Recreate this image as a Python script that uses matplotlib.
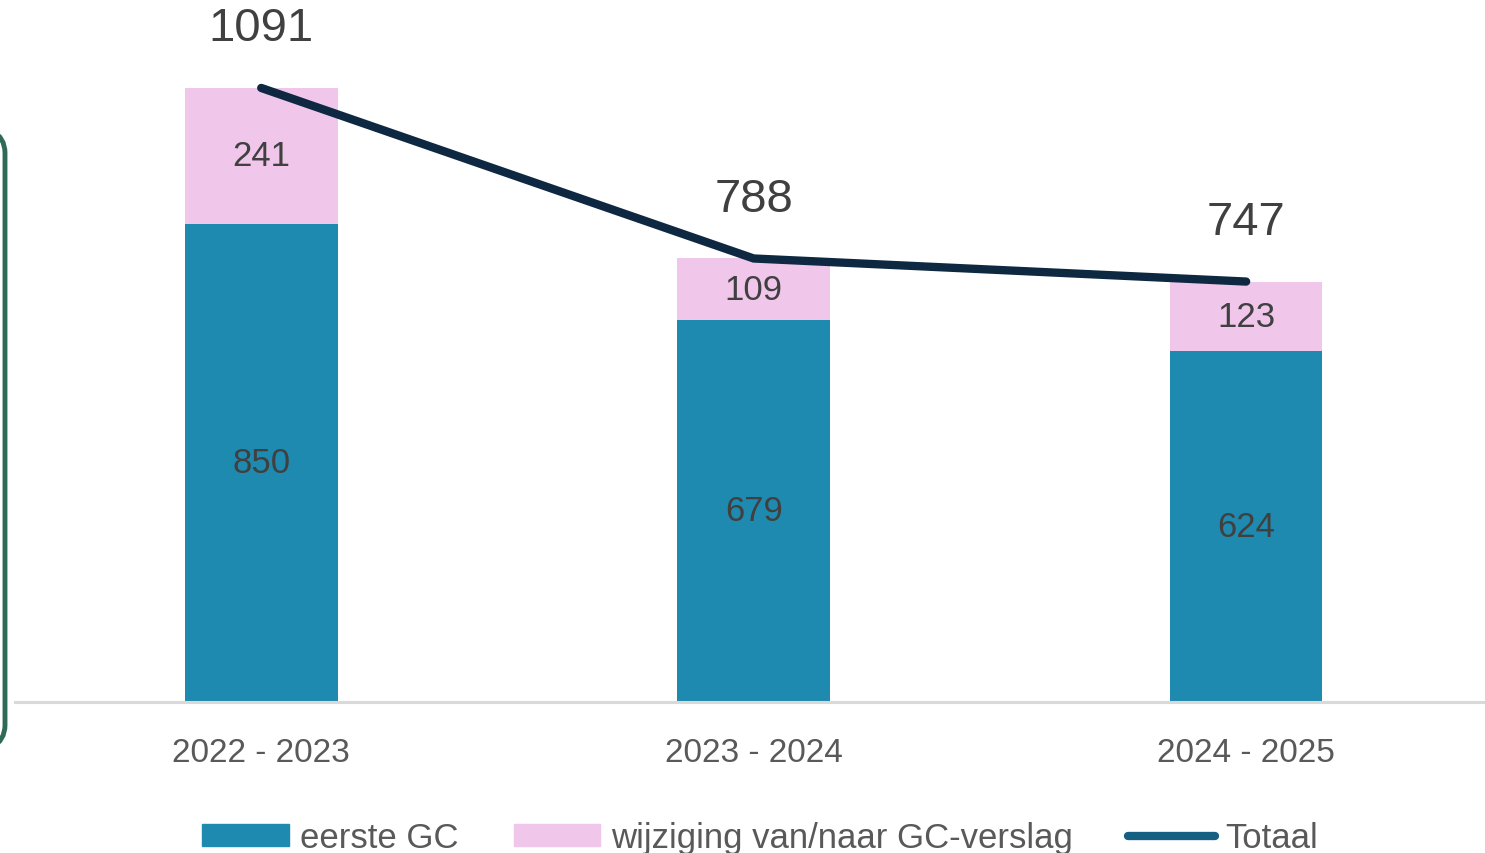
import matplotlib
matplotlib.use("Agg")
import matplotlib.pyplot as plt
from matplotlib.patches import FancyBboxPatch, Patch
from matplotlib.lines import Line2D

plt.rcParams['font.family'] = ['Liberation Sans', 'DejaVu Sans']

jaren = ['2022 - 2023', '2023 - 2024', '2024 - 2025']
eerste_gc = [850, 679, 624]
wijziging = [241, 109, 123]
totaal = [1091, 788, 747]

blauw = '#1f8ab0'
roze = '#f0c6ea'
lijn = '#0e2841'
tekst = '#404040'

fig = plt.figure(figsize=(14.85, 8.54), dpi=100)
ax = fig.add_axes([15 / 1485, 151 / 854, 1 - 15 / 1485, 675.4 / 854])

x = list(range(len(jaren)))
b1 = ax.bar(x, eerste_gc, width=0.31, color=blauw, zorder=2)
b2 = ax.bar(x, wijziging, width=0.31, bottom=eerste_gc, color=roze, zorder=2)
ax.plot(x, totaal, color=lijn, lw=6, solid_capstyle='round', zorder=3)

ax.bar_label(b1, labels=[str(v) for v in eerste_gc], label_type='center',
             fontsize=25, color=tekst)
ax.bar_label(b2, labels=[str(v) for v in wijziging], label_type='center',
             fontsize=25, color=tekst)
for xi, t in zip(x, totaal):
    ax.annotate(str(t), (xi, t), xytext=(0, 43), textcoords='offset points',
                ha='center', va='center', fontsize=34, color=tekst)

ax.set_xlim(-0.5, 2.485)
ax.set_ylim(0, 1200)
ax.set_yticks([])
ax.set_xticks(x)
ax.set_xticklabels(jaren, fontsize=24, color='#595959')
ax.tick_params(axis='x', length=0, pad=25)
for s in ['top', 'right', 'left']:
    ax.spines[s].set_visible(False)
ax.spines['bottom'].set_color('#d9d9d9')
ax.spines['bottom'].set_linewidth(2.2)

# stukje van het groene kader links
kader = FancyBboxPatch((-120 / 1485, 98 / 854), 125 / 1485, 632 / 854,
                       boxstyle='round,pad=0,rounding_size=0.035',
                       transform=fig.transFigure, fill=False,
                       edgecolor='#2f6a56', lw=3.5, clip_on=False)
fig.patches.append(kader)

handles = [Patch(color=blauw), Patch(color=roze),
           Line2D([0], [0], color='#156082', lw=6, solid_capstyle='round')]
fig.legend(handles, ['eerste GC', 'wijziging van/naar GC-verslag', 'Totaal'],
           loc='center', bbox_to_anchor=(0.512, 15 / 854), ncol=3, frameon=False,
           fontsize=25, labelcolor='#595959', handlelength=2.5,
           handleheight=0.6, handletextpad=0.3, columnspacing=1.6)

fig.savefig('out.png', dpi=100)
